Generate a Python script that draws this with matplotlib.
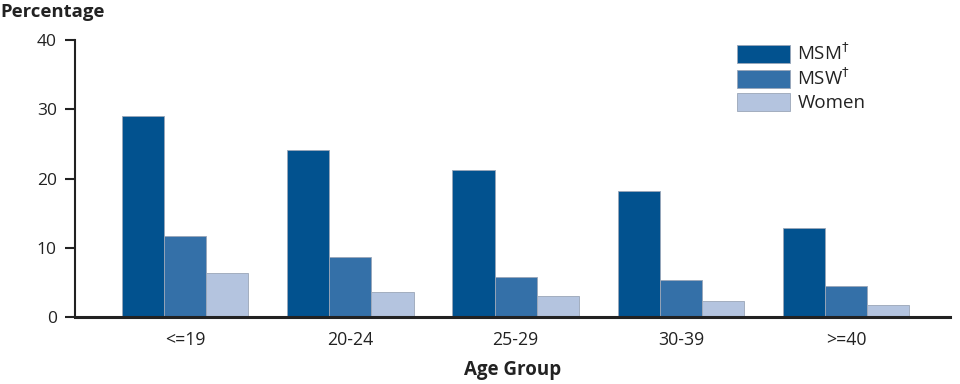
import matplotlib
matplotlib.use("Agg")
import matplotlib.pyplot as plt
import numpy as np

categories = ["<=19", "20-24", "25-29", "30-39", ">=40"]
msm = [29.0, 24.1, 21.2, 18.2, 12.9]
msw = [11.7, 8.7, 5.8, 5.4, 4.5]
women = [6.4, 3.7, 3.0, 2.4, 1.7]
series_labels = ["MSM$^{\\dagger}$", "MSW$^{\\dagger}$", "Women"]
colors = ["#02528f", "#3470a8", "#b4c4df"]

plt.rcParams['font.family'] = ['Open Sans', 'DejaVu Sans']
fig = plt.figure(figsize=(9.6, 3.84), dpi=100)
ax = fig.add_axes([0.078, 0.174, 0.912, 0.722])

x = np.arange(len(categories))
w = 0.255
for i, (vals, lab, c) in enumerate(zip([msm, msw, women], series_labels, colors)):
    ax.bar(x + (i - 1) * w, vals, width=w, color=c, edgecolor="#9aa6b8", linewidth=0.6,
           label=lab, zorder=2)

ax.set_ylim(0, 40)
ax.set_xlim(-0.667, 4.63)
ax.set_yticks([0, 10, 20, 30, 40])
ax.set_xticks(x)
ax.set_xticklabels(categories)
ax.tick_params(axis='y', length=7, width=1.5, color="#222222", labelsize=12.5, pad=6, labelcolor="#222222")
ax.tick_params(axis='x', length=0, labelsize=12.8, pad=10, labelcolor="#222222")
for s in ["top", "right"]:
    ax.spines[s].set_visible(False)
ax.spines["left"].set_linewidth(1.5)
ax.spines["left"].set_color("#222222")
ax.spines["bottom"].set_linewidth(2.2)
ax.spines["bottom"].set_color("#222222")

ax.set_xlabel("Age Group", fontsize=13.5, fontweight="bold", labelpad=8, color="#222222")
fig.text(0.0, 0.968, "Percentage", fontsize=13.3, fontweight="bold", ha="left", va="center", color="#222222")

leg = ax.legend(loc="upper left", bbox_to_anchor=(0.7566, 0.99), frameon=False, fontsize=13.5,
                handlelength=2.83, handleheight=1.07, labelspacing=0.2, handletextpad=0.38,
                borderaxespad=0.0, borderpad=0.0)
for t in leg.get_texts():
    t.set_color("#222222")

fig.savefig("out.png", dpi=100)
